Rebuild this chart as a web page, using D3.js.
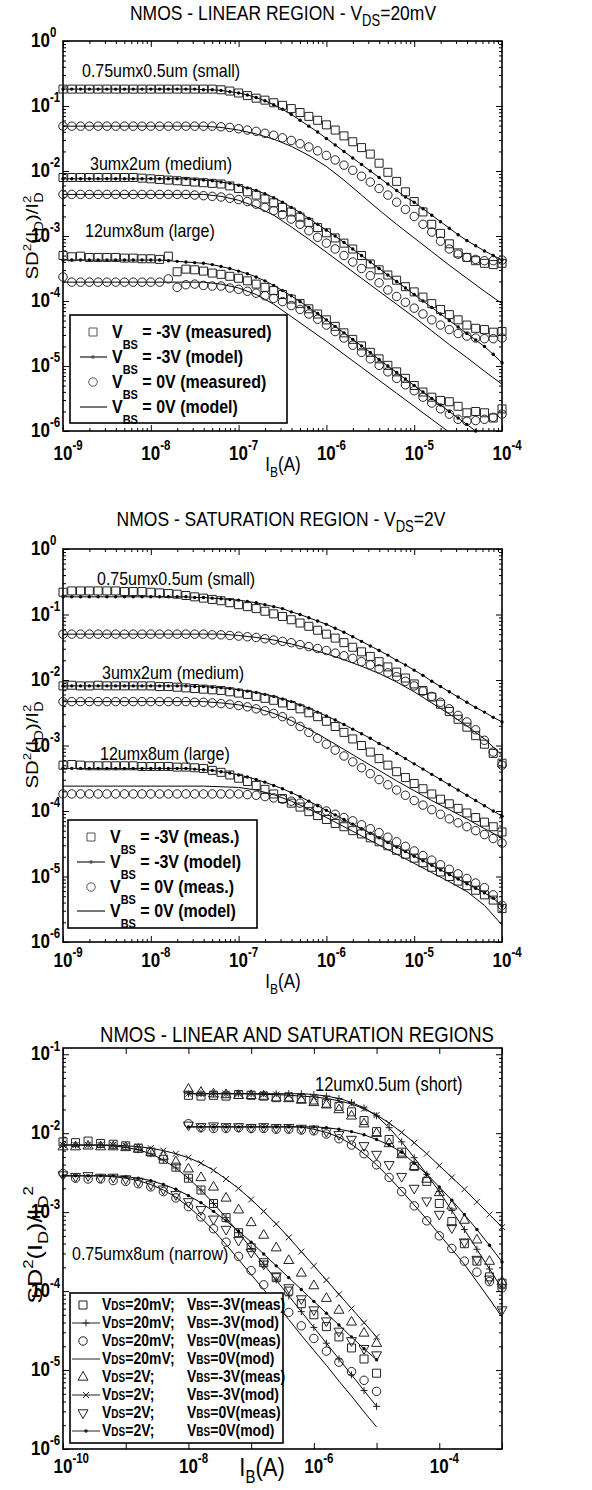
<!DOCTYPE html>
<html>
<head>
<meta charset="utf-8">
<script src="https://cdn.jsdelivr.net/npm/d3@7"></script>
<style>
  body { margin: 0; background: #fff; }
</style>
</head>
<body>
<svg width="592" height="1490"></svg>
<script>
// all curve values are log10(SD^2(I_D)/I_D^2)
// sweep grids are log10(I_B)
const ibMeas = [-9.0,-8.9,-8.8,-8.7,-8.6,-8.5,-8.4,-8.3,-8.2,-8.1,
  -8.0,-7.9,-7.8,-7.7,-7.6,-7.5,-7.4,-7.3,-7.2,-7.1,
  -7.0,-6.9,-6.8,-6.7,-6.6,-6.5,-6.4,-6.3,-6.2,-6.1,
  -6.0,-5.9,-5.8,-5.7,-5.6,-5.5,-5.4,-5.3,-5.2,-5.1,
  -5.0,-4.9,-4.8,-4.7,-4.6,-4.5,-4.4,-4.3,-4.2,-4.1,-4.0];
const ibModel = [-9.0,-8.8,-8.6,-8.4,-8.2,-8.0,-7.8,-7.6,-7.4,-7.2,-7.0,-6.8,-6.6,
  -6.4,-6.2,-6.0,-5.8,-5.6,-5.4,-5.2,-5.0,-4.8,-4.6,-4.4,-4.2,-4.0];
const ibNarrow = [-10.0,-9.8,-9.6,-9.4,-9.2,-9.0,-8.8,-8.6,-8.4,-8.2,-8.0,-7.8,-7.6,
  -7.4,-7.2,-7.0,-6.8,-6.6,-6.4,-6.2,-6.0,-5.8,-5.6,-5.4,-5.2,-5.0];
const ibShort = [-8.0,-7.8,-7.6,-7.4,-7.2,-7.0,-6.8,-6.6,-6.4,-6.2,-6.0,-5.8,-5.6,
  -5.4,-5.2,-5.0,-4.8,-4.6,-4.4,-4.2,-4.0,-3.8,-3.6,-3.4,-3.2,-3.0];

// ---- linear region, VDS = 20mV ----
const linSmallSq = [-0.74,-0.74,-0.74,-0.74,-0.74,-0.74,-0.74,-0.74,-0.74,-0.74,
  -0.74,-0.74,-0.74,-0.74,-0.74,-0.74,-0.74,-0.74,-0.75,-0.77,
  -0.80,-0.84,-0.88,-0.91,-0.95,-0.99,-1.04,-1.10,-1.16,-1.22,
  -1.29,-1.37,-1.46,-1.55,-1.64,-1.74,-1.88,-2.02,-2.16,-2.32,
  -2.47,-2.63,-2.82,-2.96,-3.12,-3.26,-3.33,-3.38,-3.42,-3.44,-3.42];
const linSmallMod3 = [-0.74,-0.74,-0.74,-0.74,-0.74,-0.74,-0.74,-0.74,-0.74,-0.74,
  -0.74,-0.74,-0.74,-0.74,-0.74,-0.74,-0.75,-0.75,-0.76,-0.78,
  -0.80,-0.83,-0.87,-0.92,-0.98,-1.05,-1.13,-1.22,-1.31,-1.40,
  -1.50,-1.60,-1.70,-1.80,-1.90,-2.00,-2.10,-2.20,-2.30,-2.40,
  -2.48,-2.58,-2.68,-2.78,-2.88,-2.98,-3.07,-3.15,-3.23,-3.30,-3.37];
const linSmallCirc = [-1.31,-1.31,-1.31,-1.31,-1.31,-1.31,-1.31,-1.31,-1.31,-1.31,
  -1.31,-1.31,-1.31,-1.31,-1.31,-1.31,-1.31,-1.31,-1.32,-1.33,
  -1.35,-1.37,-1.39,-1.42,-1.45,-1.49,-1.53,-1.58,-1.63,-1.69,
  -1.76,-1.83,-1.91,-1.99,-2.08,-2.17,-2.27,-2.37,-2.48,-2.59,
  -2.70,-2.82,-2.94,-3.08,-3.20,-3.28,-3.33,-3.36,-3.38,-3.38,-3.37];
const linSmallMod0 = [-1.31,-1.31,-1.31,-1.31,-1.31,-1.31,-1.31,-1.31,-1.31,-1.33,-1.37,-1.43,-1.51,
  -1.62,-1.76,-1.93,-2.14,-2.37,-2.60,-2.82,-3.03,-3.24,-3.45,-3.65,-3.85,-4.04];

const linMedSq = [-2.10,-2.10,-2.10,-2.10,-2.10,-2.10,-2.10,-2.10,-2.10,-2.11,
  -2.12,-2.13,-2.14,-2.15,-2.16,-2.17,-2.18,-2.19,-2.20,-2.23,
  -2.27,-2.32,-2.37,-2.43,-2.49,-2.56,-2.63,-2.71,-2.79,-2.87,
  -2.95,-3.03,-3.11,-3.20,-3.30,-3.43,-3.52,-3.60,-3.68,-3.78,
  -3.86,-3.94,-4.04,-4.13,-4.21,-4.29,-4.37,-4.42,-4.44,-4.48,-4.47];
const linMedMod3 = [-2.12,-2.12,-2.12,-2.12,-2.12,-2.12,-2.12,-2.12,-2.12,-2.12,
  -2.12,-2.12,-2.12,-2.12,-2.12,-2.13,-2.14,-2.15,-2.17,-2.19,
  -2.22,-2.26,-2.30,-2.35,-2.41,-2.48,-2.56,-2.64,-2.73,-2.82,
  -2.91,-3.00,-3.10,-3.20,-3.30,-3.40,-3.50,-3.60,-3.70,-3.80,
  -3.90,-4.00,-4.10,-4.20,-4.30,-4.40,-4.50,-4.60,-4.70,-4.82,-4.95];
const linMedCirc = [-2.36,-2.36,-2.36,-2.36,-2.36,-2.36,-2.36,-2.36,-2.36,-2.36,
  -2.36,-2.36,-2.36,-2.36,-2.36,-2.37,-2.38,-2.39,-2.40,-2.42,
  -2.44,-2.47,-2.51,-2.56,-2.61,-2.67,-2.74,-2.82,-2.92,-3.02,
  -3.11,-3.20,-3.30,-3.40,-3.50,-3.61,-3.72,-3.83,-3.93,-4.02,
  -4.11,-4.20,-4.29,-4.37,-4.44,-4.50,-4.54,-4.57,-4.58,-4.58,-4.57];
const linMedMod0 = [-2.36,-2.36,-2.36,-2.36,-2.36,-2.36,-2.36,-2.36,-2.36,-2.39,-2.45,-2.55,-2.68,
  -2.86,-3.05,-3.25,-3.45,-3.65,-3.85,-4.05,-4.25,-4.46,-4.67,-4.87,-5.08,-5.28];

const linLrgSq = [-3.30,-3.32,-3.31,-3.33,-3.33,-3.33,-3.33,-3.34,-3.34,-3.35,
  -3.35,-3.36,-3.31,-3.55,-3.51,-3.52,-3.54,-3.57,-3.59,-3.62,
  -3.65,-3.69,-3.74,-3.79,-3.84,-3.90,-3.97,-4.04,-4.12,-4.20,
  -4.29,-4.39,-4.49,-4.59,-4.69,-4.79,-4.89,-4.99,-5.09,-5.19,
  -5.30,-5.40,-5.48,-5.53,-5.55,-5.62,-5.72,-5.70,-5.72,-5.80,-5.66];
const linLrgMod3 = [-3.37,-3.37,-3.37,-3.37,-3.37,-3.37,-3.37,-3.37,-3.37,-3.37,
  -3.37,-3.37,-3.38,-3.39,-3.40,-3.41,-3.42,-3.44,-3.47,-3.50,
  -3.54,-3.58,-3.63,-3.69,-3.76,-3.84,-3.92,-4.01,-4.10,-4.19,
  -4.29,-4.39,-4.49,-4.59,-4.69,-4.79,-4.90,-5.00,-5.10,-5.20,
  -5.30,-5.40,-5.50,-5.60,-5.70,-5.80,-5.90,-6.00,-6.10,-6.20,-6.30];
const linLrgCirc = [-3.63,-3.71,-3.71,-3.71,-3.71,-3.71,-3.71,-3.71,-3.71,-3.71,
  -3.71,-3.71,-3.66,-3.79,-3.75,-3.74,-3.76,-3.77,-3.77,-3.80,
  -3.82,-3.85,-3.88,-3.92,-3.96,-4.01,-4.07,-4.13,-4.20,-4.28,
  -4.37,-4.47,-4.57,-4.68,-4.79,-4.89,-4.99,-5.09,-5.19,-5.29,
  -5.38,-5.48,-5.57,-5.66,-5.74,-5.82,-5.85,-5.84,-5.82,-5.79,-5.74];
const linLrgMod0 = [-3.71,-3.71,-3.71,-3.71,-3.71,-3.71,-3.71,-3.71,-3.71,-3.74,-3.80,-3.90,-4.05,
  -4.24,-4.43,-4.62,-4.82,-5.02,-5.22,-5.42,-5.62,-5.82,-6.02,-6.22,-6.42,-6.62];

// ---- saturation region, VDS = 2V ----
const satSmallSq = [-0.66,-0.64,-0.64,-0.64,-0.64,-0.64,-0.64,-0.65,-0.65,-0.65,
  -0.66,-0.67,-0.68,-0.69,-0.71,-0.73,-0.75,-0.77,-0.79,-0.82,
  -0.85,-0.88,-0.91,-0.95,-0.99,-1.03,-1.08,-1.13,-1.18,-1.24,
  -1.30,-1.36,-1.43,-1.50,-1.57,-1.64,-1.72,-1.80,-1.88,-1.97,
  -2.06,-2.16,-2.26,-2.37,-2.48,-2.60,-2.72,-2.85,-2.98,-3.12,-3.27];
const satSmallMod3 = [-0.73,-0.73,-0.73,-0.73,-0.73,-0.73,-0.73,-0.73,-0.73,-0.73,
  -0.73,-0.73,-0.73,-0.73,-0.73,-0.74,-0.74,-0.75,-0.76,-0.77,
  -0.78,-0.80,-0.82,-0.85,-0.88,-0.91,-0.96,-1.00,-1.05,-1.10,
  -1.15,-1.21,-1.27,-1.34,-1.41,-1.48,-1.55,-1.62,-1.70,-1.77,
  -1.85,-1.93,-2.02,-2.10,-2.18,-2.26,-2.34,-2.42,-2.49,-2.57,-2.64];
const satSmallCirc = [-1.30,-1.30,-1.30,-1.30,-1.30,-1.30,-1.30,-1.30,-1.30,-1.30,
  -1.30,-1.30,-1.30,-1.30,-1.30,-1.30,-1.30,-1.31,-1.31,-1.32,
  -1.33,-1.34,-1.35,-1.37,-1.39,-1.41,-1.43,-1.46,-1.49,-1.52,
  -1.55,-1.59,-1.63,-1.67,-1.72,-1.77,-1.83,-1.89,-1.95,-2.02,
  -2.09,-2.17,-2.25,-2.34,-2.44,-2.54,-2.64,-2.76,-2.92,-3.10,-3.30];
const satSmallMod0 = [-1.30,-1.30,-1.30,-1.30,-1.30,-1.30,-1.30,-1.30,-1.30,-1.30,-1.32,-1.35,-1.39,
  -1.45,-1.52,-1.60,-1.69,-1.79,-1.90,-2.03,-2.18,-2.35,-2.52,-2.70,-2.90,-3.15];

const satMedSq = [-2.09,-2.08,-2.09,-2.09,-2.08,-2.09,-2.09,-2.09,-2.09,-2.09,
  -2.09,-2.10,-2.10,-2.11,-2.12,-2.13,-2.14,-2.15,-2.16,-2.18,
  -2.20,-2.22,-2.25,-2.28,-2.31,-2.35,-2.39,-2.44,-2.50,-2.56,
  -2.63,-2.71,-2.80,-2.90,-3.00,-3.10,-3.20,-3.30,-3.40,-3.49,
  -3.58,-3.66,-3.74,-3.82,-3.89,-3.96,-4.03,-4.10,-4.17,-4.24,-4.32];
const satMedMod3 = [-2.09,-2.09,-2.09,-2.09,-2.09,-2.09,-2.09,-2.09,-2.09,-2.09,
  -2.09,-2.09,-2.09,-2.09,-2.09,-2.10,-2.10,-2.11,-2.12,-2.13,
  -2.15,-2.17,-2.19,-2.22,-2.25,-2.29,-2.33,-2.38,-2.43,-2.49,
  -2.55,-2.61,-2.68,-2.75,-2.82,-2.89,-2.97,-3.04,-3.12,-3.20,
  -3.28,-3.36,-3.44,-3.52,-3.60,-3.68,-3.76,-3.84,-3.92,-4.00,-4.08];
const satMedCirc = [-2.33,-2.33,-2.33,-2.33,-2.33,-2.33,-2.33,-2.33,-2.33,-2.33,
  -2.33,-2.33,-2.33,-2.33,-2.33,-2.34,-2.34,-2.35,-2.36,-2.37,
  -2.39,-2.41,-2.44,-2.47,-2.51,-2.56,-2.63,-2.71,-2.80,-2.89,
  -2.98,-3.07,-3.16,-3.25,-3.34,-3.43,-3.52,-3.60,-3.68,-3.76,
  -3.84,-3.91,-3.98,-4.05,-4.12,-4.18,-4.24,-4.30,-4.36,-4.42,-4.49];
const satMedMod0 = [-2.33,-2.33,-2.33,-2.33,-2.33,-2.33,-2.33,-2.33,-2.33,-2.35,-2.38,-2.43,-2.51,
  -2.62,-2.75,-2.90,-3.06,-3.22,-3.38,-3.54,-3.69,-3.84,-3.98,-4.12,-4.27,-4.41];

const satLrgSq = [-3.30,-3.29,-3.30,-3.31,-3.31,-3.31,-3.31,-3.31,-3.31,-3.32,
  -3.32,-3.32,-3.32,-3.33,-3.33,-3.34,-3.35,-3.38,-3.41,-3.45,
  -3.50,-3.55,-3.61,-3.67,-3.74,-3.81,-3.88,-3.94,-4.01,-4.07,
  -4.13,-4.19,-4.24,-4.30,-4.35,-4.41,-4.47,-4.53,-4.60,-4.66,
  -4.72,-4.79,-4.86,-4.93,-5.00,-5.07,-5.14,-5.21,-5.28,-5.36,-5.49];
const satLrgMod3 = [-3.35,-3.35,-3.35,-3.35,-3.35,-3.35,-3.35,-3.35,-3.35,-3.35,
  -3.35,-3.35,-3.35,-3.35,-3.35,-3.36,-3.37,-3.38,-3.40,-3.42,
  -3.45,-3.48,-3.52,-3.56,-3.61,-3.66,-3.72,-3.78,-3.85,-3.92,
  -3.99,-4.06,-4.13,-4.20,-4.27,-4.34,-4.41,-4.48,-4.55,-4.62,
  -4.69,-4.76,-4.83,-4.90,-4.97,-5.04,-5.11,-5.18,-5.25,-5.33,-5.45];
const satLrgCirc = [-3.74,-3.74,-3.74,-3.74,-3.74,-3.74,-3.74,-3.74,-3.74,-3.74,
  -3.74,-3.74,-3.74,-3.74,-3.74,-3.74,-3.74,-3.74,-3.74,-3.74,
  -3.74,-3.75,-3.76,-3.78,-3.80,-3.82,-3.85,-3.88,-3.92,-3.96,
  -4.00,-4.05,-4.10,-4.15,-4.21,-4.27,-4.33,-4.40,-4.47,-4.54,
  -4.61,-4.68,-4.75,-4.82,-4.89,-4.96,-5.03,-5.10,-5.17,-5.28,-5.44];
const satLrgMod0 = [-3.62,-3.62,-3.62,-3.62,-3.62,-3.62,-3.62,-3.62,-3.62,-3.63,-3.64,-3.68,-3.75,
  -3.85,-3.97,-4.10,-4.24,-4.38,-4.52,-4.66,-4.80,-4.94,-5.08,-5.23,-5.44,-5.74];

// ---- linear and saturation, narrow (0.75umx8um) ----
const nar20Sq = [-2.11,-2.12,-2.10,-2.13,-2.14,-2.16,-2.19,-2.24,-2.33,-2.43,-2.57,-2.72,-2.89,
  -3.07,-3.26,-3.45,-3.64,-3.83,-4.00,-4.16,-4.30,-4.45,-4.58,-4.72,-4.86,-5.04];
const nar20Mod3 = [-2.15,-2.15,-2.15,-2.15,-2.16,-2.18,-2.21,-2.26,-2.34,-2.44,-2.57,-2.72,-2.89,
  -3.07,-3.26,-3.46,-3.66,-3.86,-4.06,-4.26,-4.46,-4.66,-4.86,-5.06,-5.26,-5.46];
const nar20Circ = [-2.51,-2.57,-2.58,-2.58,-2.60,-2.61,-2.64,-2.68,-2.74,-2.82,-2.93,-3.06,-3.21,
  -3.38,-3.56,-3.74,-3.92,-4.10,-4.27,-4.44,-4.60,-4.76,-4.90,-5.02,-5.13,-5.27];
const nar20Mod0 = [-2.54,-2.54,-2.54,-2.54,-2.55,-2.57,-2.60,-2.65,-2.72,-2.81,-2.93,-3.07,-3.23,
  -3.41,-3.60,-3.79,-3.98,-4.17,-4.36,-4.56,-4.75,-4.94,-5.14,-5.33,-5.53,-5.72];
const nar2Tri = [-2.17,-2.17,-2.16,-2.17,-2.17,-2.18,-2.20,-2.24,-2.29,-2.36,-2.45,-2.56,-2.68,
  -2.82,-2.97,-3.13,-3.29,-3.45,-3.61,-3.77,-3.93,-4.09,-4.24,-4.39,-4.53,-4.66];
const nar2Mod3 = [-2.15,-2.15,-2.15,-2.15,-2.15,-2.16,-2.17,-2.19,-2.22,-2.26,-2.31,-2.38,-2.47,
  -2.58,-2.70,-2.84,-2.99,-3.15,-3.32,-3.50,-3.68,-3.86,-4.04,-4.22,-4.40,-4.58];
const nar2Dtri = [-2.53,-2.55,-2.54,-2.56,-2.56,-2.58,-2.61,-2.65,-2.71,-2.78,-2.87,-2.97,-3.09,
  -3.22,-3.36,-3.51,-3.66,-3.81,-3.96,-4.10,-4.24,-4.38,-4.51,-4.63,-4.73,-4.81];
const nar2Mod0 = [-2.54,-2.54,-2.54,-2.54,-2.54,-2.55,-2.57,-2.60,-2.65,-2.71,-2.79,-2.88,-2.99,
  -3.11,-3.24,-3.38,-3.53,-3.68,-3.83,-3.98,-4.13,-4.28,-4.43,-4.58,-4.73,-4.87];

// ---- linear and saturation, short (12umx0.5um) ----
const sh20Sq = [-1.52,-1.53,-1.52,-1.53,-1.51,-1.52,-1.53,-1.55,-1.54,-1.56,-1.58,-1.62,-1.66,
  -1.73,-1.84,-1.98,-2.08,-2.24,-2.42,-2.61,-2.89,-3.12,-3.40,-3.62,-3.82,-3.90];
const sh20Mod3 = [-1.50,-1.50,-1.50,-1.50,-1.50,-1.50,-1.50,-1.50,-1.50,-1.50,-1.51,-1.53,-1.56,
  -1.61,-1.68,-1.78,-1.93,-2.11,-2.31,-2.52,-2.74,-2.98,-3.22,-3.47,-3.72,-3.97];
const sh20Circ = [-1.88,-1.93,-1.94,-1.94,-1.93,-1.94,-1.94,-1.95,-1.95,-1.96,-1.97,-2.01,-2.07,
  -2.15,-2.26,-2.40,-2.56,-2.74,-2.92,-3.11,-3.30,-3.46,-3.62,-3.76,-3.88,-3.96];
const sh20Mod0 = [-1.92,-1.92,-1.92,-1.92,-1.92,-1.92,-1.92,-1.92,-1.92,-1.92,-1.95,-1.99,-2.05,
  -2.14,-2.26,-2.40,-2.56,-2.73,-2.91,-3.09,-3.28,-3.47,-3.66,-3.88,-4.10,-4.33];
const sh2Tri = [-1.44,-1.48,-1.50,-1.51,-1.52,-1.52,-1.53,-1.55,-1.56,-1.58,-1.61,-1.64,-1.70,
  -1.78,-1.88,-2.00,-2.13,-2.27,-2.42,-2.58,-2.75,-2.92,-3.10,-3.35,-3.62,-3.88];
const sh2Mod3 = [-1.50,-1.50,-1.50,-1.50,-1.50,-1.50,-1.51,-1.51,-1.52,-1.53,-1.54,-1.56,-1.59,
  -1.63,-1.69,-1.77,-1.87,-1.99,-2.12,-2.26,-2.41,-2.56,-2.71,-2.87,-3.03,-3.19];
const sh2Dtri = [-1.90,-1.92,-1.91,-1.92,-1.92,-1.93,-1.92,-1.93,-1.93,-1.94,-1.95,-1.98,-2.02,
  -2.08,-2.16,-2.27,-2.40,-2.55,-2.70,-2.86,-3.03,-3.20,-3.38,-3.60,-3.85,-4.24];
const sh2Mod0 = [-1.92,-1.92,-1.92,-1.92,-1.92,-1.92,-1.92,-1.92,-1.92,-1.92,-1.92,-1.93,-1.95,
  -1.98,-2.02,-2.08,-2.15,-2.24,-2.38,-2.52,-2.68,-2.85,-3.03,-3.22,-3.42,-3.63];

const legendTextLin = ['= -3V (measured)', '= -3V (model)', '= 0V (measured)', '= 0V (model)'];
const legendTextSat = ['= -3V (meas.)', '= -3V (model)', '= 0V (meas.)', '= 0V (model)'];
const legendVds = ['20mV;', '20mV;', '20mV;', '20mV;', '2V;', '2V;', '2V;', '2V;'];
const legendVbs = ['-3V(meas)', '-3V(mod)', '0V(meas)', '0V(mod)', '-3V(meas)', '-3V(mod)', '0V(meas)', '0V(mod)'];

const SY = 1.2; // the reference text is stretched vertically
const FONT = 'Arial, "Liberation Sans", sans-serif';
const svg = d3.select('svg');

const MARK = {
    square: 'M-4,-4H4V4H-4Z',
    circle: d3.symbol(d3.symbolCircle, 56)(),
    tri: 'M0,-5.5L5,3.2H-5Z',
    dtri: 'M0,5.5L5,-3.2H-5Z',
    plus: 'M-3.5,0H3.5M0,-3.5V3.5',
    times: 'M-3,-3L3,3M-3,3L3,-3'
};

function label(parent, x, y, parts, opt = {}) {
    const tf = opt.rotate
        ? `translate(${x},${y}) rotate(-90) scale(${SY},1)`
        : `translate(${x},${y}) scale(1,${SY})`;
    const t = parent.append('text')
        .attr('transform', tf)
        .attr('text-anchor', opt.anchor || 'start')
        .style('font-family', FONT)
        .attr('fill', '#000');
    parts.forEach(p => {
        t.append('tspan')
            .attr('font-size', p.s)
            .attr('font-weight', p.b ? 'bold' : 'normal')
            .attr('dx', p.dx || 0)
            .attr('dy', p.dy || 0)
            .text(p.t);
    });
    return t;
}

const isDecade = v => Math.abs(Math.log10(v) - Math.round(Math.log10(v))) < 1e-9;

function makePanel(c) {
    const x = d3.scaleLog().domain(c.xDom).range([c.left, c.right]);
    const y = d3.scaleLog().domain(c.yDom).range([c.bottom, c.top]);
    const g = svg.append('g');
    svg.append('clipPath').attr('id', 'clip' + c.id)
        .append('rect')
        .attr('x', c.left).attr('y', c.top)
        .attr('width', c.right - c.left).attr('height', c.bottom - c.top);

    const xMaj = x.ticks().filter(isDecade);
    const xMin = c.xMinor ? x.ticks().filter(v => !isDecade(v)) : [];
    const yMaj = y.ticks().filter(isDecade);
    const yMin = y.ticks().filter(v => !isDecade(v));

    const axes = g.append('g');
    [[d3.axisBottom, x, `translate(0,${c.bottom})`, xMaj, 6], [d3.axisBottom, x, `translate(0,${c.bottom})`, xMin, 3],
     [d3.axisTop, x, `translate(0,${c.top})`, xMaj, 6], [d3.axisTop, x, `translate(0,${c.top})`, xMin, 3],
     [d3.axisLeft, y, `translate(${c.left},0)`, yMaj, 6], [d3.axisLeft, y, `translate(${c.left},0)`, yMin, 3],
     [d3.axisRight, y, `translate(${c.right},0)`, yMaj, 6], [d3.axisRight, y, `translate(${c.right},0)`, yMin, 3]]
        .forEach(([ax, sc, tf, vals, len]) => {
            axes.append('g').attr('transform', tf)
                .call(ax(sc).tickValues(vals).tickSize(-len).tickFormat(''))
                .call(s => s.select('.domain').remove())
                .call(s => s.selectAll('line').attr('stroke', '#000').attr('stroke-width', 1));
        });

    g.append('rect')
        .attr('x', c.left).attr('y', c.top)
        .attr('width', c.right - c.left).attr('height', c.bottom - c.top)
        .attr('fill', 'none').attr('stroke', '#000').attr('stroke-width', 1.6);

    // tick labels
    yMaj.forEach(v => {
        label(g, 31, y(v) + 6, [
            { t: '10', s: 17, b: 1 },
            { t: String(Math.round(Math.log10(v))), s: 11.5, b: 1, dy: -8 }
        ]);
    });
    xMaj.filter(v => !c.xLabelEvery || Math.round(Math.log10(v)) % 2 === 0).forEach(v => {
        label(g, x(v) - 9.5, c.xLabelY, [
            { t: '10', s: 17, b: 1 },
            { t: String(Math.round(Math.log10(v))), s: 11.5, b: 1, dy: -8 }
        ]);
    });

    return { id: c.id, x, y, g, yDom: c.yDom, plot: g.append('g') };
}

function drawSeries(p, ib, vals, mark, withLine) {
    const pts = ib.map((e, i) => [Math.pow(10, e), Math.pow(10, vals[i])]);
    if (withLine) {
        p.plot.append('path')
            .datum(pts)
            .attr('clip-path', `url(#clip${p.id})`)
            .attr('fill', 'none')
            .attr('stroke', '#000')
            .attr('stroke-width', 1)
            .attr('d', d3.line().x(d => p.x(d[0])).y(d => p.y(d[1])));
    }
    if (!mark) return;
    const shown = pts.filter(d => d[1] >= p.yDom[0] * 0.97 && d[1] <= p.yDom[1]);
    const sel = p.plot.append('g').selectAll('path')
        .data(shown)
        .join('path')
        .attr('transform', d => `translate(${p.x(d[0])},${p.y(d[1])})`);
    if (mark === 'dot') {
        sel.attr('d', d3.symbol(d3.symbolCircle, 9)()).attr('fill', '#000');
    } else {
        sel.attr('d', MARK[mark]).attr('fill', 'none').attr('stroke', '#222').attr('stroke-width', 1);
    }
}

function legendSample(g, cx, cy, mark, withLine, x0, x1, color) {
    if (withLine) {
        g.append('line').attr('x1', x0).attr('x2', x1).attr('y1', cy).attr('y2', cy)
            .attr('stroke', color).attr('stroke-width', withLine === 2 ? 1.6 : 1);
    }
    if (mark === 'dot') {
        g.append('circle').attr('cx', cx).attr('cy', cy).attr('r', 1.8).attr('fill', color);
    } else if (mark) {
        g.append('path').attr('transform', `translate(${cx},${cy})`).attr('d', MARK[mark])
            .attr('fill', 'none').attr('stroke', color).attr('stroke-width', 1);
    }
}

// ============ panel 1: linear region ============
const p1 = makePanel({ id: 1, left: 63, right: 502, top: 41, bottom: 431,
    xDom: [1e-9, 1e-4], yDom: [1e-6, 1], xMinor: true, xLabelY: 460 });
[[linSmallMod0, linSmallMod3, linSmallSq, linSmallCirc],
 [linMedMod0, linMedMod3, linMedSq, linMedCirc],
 [linLrgMod0, linLrgMod3, linLrgSq, linLrgCirc]].forEach(([m0, m3, sq, ci]) => {
    drawSeries(p1, ibModel, m0, null, true);
    drawSeries(p1, ibMeas, m3, 'dot', true);
    drawSeries(p1, ibMeas, sq, 'square', false);
    drawSeries(p1, ibMeas, ci, 'circle', false);
});

// ============ panel 2: saturation region ============
const p2 = makePanel({ id: 2, left: 63, right: 502, top: 549, bottom: 942,
    xDom: [1e-9, 1e-4], yDom: [1e-6, 1], xMinor: true, xLabelY: 967 });
[[satSmallMod0, satSmallMod3, satSmallSq, satSmallCirc],
 [satMedMod0, satMedMod3, satMedSq, satMedCirc],
 [satLrgMod0, satLrgMod3, satLrgSq, satLrgCirc]].forEach(([m0, m3, sq, ci]) => {
    drawSeries(p2, ibModel, m0, null, true);
    drawSeries(p2, ibMeas, m3, 'dot', true);
    drawSeries(p2, ibMeas, sq, 'square', false);
    drawSeries(p2, ibMeas, ci, 'circle', false);
});

// ============ panel 3: both regions ============
const p3 = makePanel({ id: 3, left: 63, right: 502, top: 1048, bottom: 1449,
    xDom: [1e-10, 1e-3], yDom: [1e-6, 0.12], xMinor: false, xLabelEvery: 2, xLabelY: 1473 });
[[ibNarrow, nar20Mod0, nar20Mod3, nar2Mod0, nar2Mod3, nar20Sq, nar20Circ, nar2Tri, nar2Dtri],
 [ibShort, sh20Mod0, sh20Mod3, sh2Mod0, sh2Mod3, sh20Sq, sh20Circ, sh2Tri, sh2Dtri]]
    .forEach(([ib, m20_0, m20_3, m2_0, m2_3, sq, ci, tr, dt]) => {
        drawSeries(p3, ib, m20_0, null, true);
        drawSeries(p3, ib, m20_3, 'plus', true);
        drawSeries(p3, ib, m2_0, 'dot', true);
        drawSeries(p3, ib, m2_3, 'times', true);
        drawSeries(p3, ib, sq, 'square', false);
        drawSeries(p3, ib, ci, 'circle', false);
        drawSeries(p3, ib, tr, 'tri', false);
        drawSeries(p3, ib, dt, 'dtri', false);
    });

// ============ text ============
const T = svg.append('g');
label(T, 283, 20, [{ t: 'NMOS - LINEAR REGION - V', s: 17.5 }, { t: 'DS', s: 13, dy: 5 }, { t: '=20mV', s: 17.5, dy: -5 }], { anchor: 'middle' });
label(T, 281, 526, [{ t: 'NMOS - SATURATION REGION - V', s: 17.5 }, { t: 'DS', s: 13, dy: 5 }, { t: '=2V', s: 17.5, dy: -5 }], { anchor: 'middle' });
label(T, 297, 1042, [{ t: 'NMOS - LINEAR AND SATURATION REGIONS', s: 18.5 }], { anchor: 'middle' });

const yLab = (s, sup, sub) => [
    { t: 'SD', s }, { t: '2', s: sup, dy: -7 }, { t: '(I', s, dy: 7 }, { t: 'D', s: sub, dy: 5 },
    { t: ')/I', s, dy: -5 }, { t: '2', s: sup, dy: -7 }, { t: 'D', s: sub, dx: -6, dy: 12 }];
label(T, 38, 236, yLab(17, 11, 12), { rotate: true, anchor: 'middle' });
label(T, 38, 745, yLab(17, 11, 12), { rotate: true, anchor: 'middle' });
label(T, 42, 1245, [
    { t: 'SD', s: 21 }, { t: '2', s: 14, dy: -9 }, { t: '(I', s: 21, dy: 9 }, { t: 'D', s: 15, dy: 6 },
    { t: ')/I', s: 21, dy: -6 }, { t: 'D', s: 15, dy: 6 }, { t: '2', s: 14, dy: -15 }], { rotate: true, anchor: 'middle' });

label(T, 283, 471, [{ t: 'I', s: 17 }, { t: 'B', s: 12, dy: 5 }, { t: '(A)', s: 17, dy: -5 }], { anchor: 'middle' });
label(T, 283, 988, [{ t: 'I', s: 17 }, { t: 'B', s: 12, dy: 5 }, { t: '(A)', s: 17, dy: -5 }], { anchor: 'middle' });
label(T, 262, 1476, [{ t: 'I', s: 22 }, { t: 'B', s: 15, dy: 6 }, { t: '(A)', s: 22, dy: -6 }], { anchor: 'middle' });

// device names
label(T, 82, 77, [{ t: '0.75umx0.5um (small)', s: 16 }]);
label(T, 90, 170, [{ t: '3umx2um (medium)', s: 16 }]);
label(T, 85, 237, [{ t: '12umx8um (large)', s: 16 }]);
label(T, 97, 585, [{ t: '0.75umx0.5um (small)', s: 16 }]);
label(T, 102, 679, [{ t: '3umx2um (medium)', s: 16 }]);
label(T, 100, 760, [{ t: '12umx8um (large)', s: 16 }]);
label(T, 315, 1091, [{ t: '12umx0.5um (short)', s: 16.5 }]);
label(T, 72, 1260, [{ t: '0.75umx8um (narrow)', s: 16 }]);

// ============ legends ============
const legendMarks = [['square', 0], ['dot', 2], ['circle', 0], [null, 2]];

function legend4(box, rows, texts, symX, lineX0, lineX1, textX) {
    const g = svg.append('g');
    g.append('rect').attr('x', box[0]).attr('y', box[1]).attr('width', box[2]).attr('height', box[3])
        .attr('fill', '#fff').attr('stroke', '#000').attr('stroke-width', 1.6);
    texts.forEach((t, i) => {
        const [m, ln] = legendMarks[i];
        legendSample(g, symX, rows[i] - 6, m, ln, lineX0, lineX1, '#555');
        label(g, textX, rows[i], [{ t: 'V', s: 16, b: 1 }, { t: 'BS', s: 11, b: 1, dy: 9 }, { t: ' ' + t, s: 16, b: 1, dy: -9 }]);
    });
}
legend4([70, 315, 217, 108], [338, 363, 388, 413], legendTextLin, 93, 80, 107, 112);
legend4([68, 820, 189, 108], [843, 868, 893, 917], legendTextSat, 91, 77, 105, 110);

const legend3Marks = [['square', 0], ['plus', 1], ['circle', 0], [null, 1], ['tri', 0], ['times', 1], ['dtri', 0], ['dot', 1]];
const lg3 = svg.append('g');
lg3.append('rect').attr('x', 70).attr('y', 1293).attr('width', 213).attr('height', 150)
    .attr('fill', '#fff').attr('stroke', '#000').attr('stroke-width', 1.6);
legendVds.forEach((vds, i) => {
    const cy = 1305 + i * 18.0;
    const [m, ln] = legend3Marks[i];
    legendSample(lg3, ln ? 86 : 83, cy, m, ln, 72, 100, '#222');
    label(lg3, 102, cy + 5, [{ t: 'V', s: 14, b: 1 }, { t: 'DS', s: 10, b: 1 }, { t: '=' + vds, s: 14, b: 1 }]);
    label(lg3, 187, cy + 5, [{ t: 'V', s: 14, b: 1 }, { t: 'BS', s: 10, b: 1 }, { t: '=' + legendVbs[i], s: 14, b: 1 }]);
});
</script>
</body>
</html>
